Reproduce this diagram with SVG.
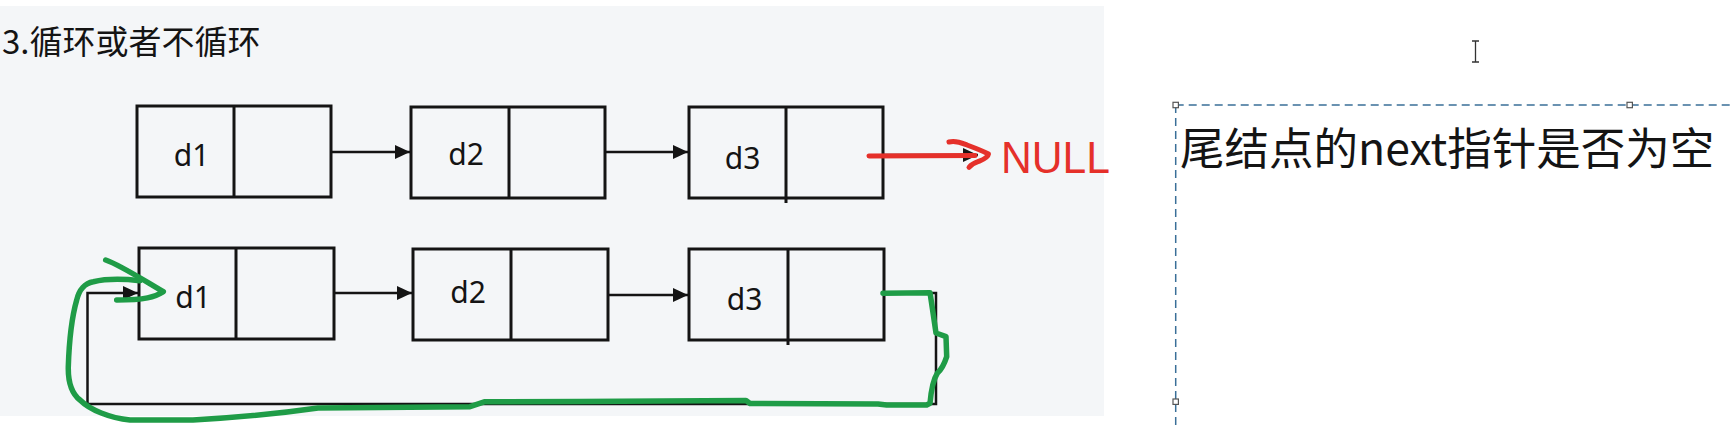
<svg xmlns="http://www.w3.org/2000/svg" width="1731" height="427" viewBox="0 0 1731 427">
<style>
.box{fill:none;stroke:#141414;stroke-width:3}
.div{stroke:#141414;stroke-width:3}
.lbl{font-family:"Noto Sans","Liberation Sans",sans-serif;font-size:30px;fill:#141414;text-anchor:middle}
.conn{fill:none;stroke:#141414;stroke-width:2.5}
.green{fill:none;stroke:#1f9c47;stroke-width:5.5;stroke-linecap:round;stroke-linejoin:round}
.red{fill:none;stroke:#e5302a;stroke-width:5;stroke-linecap:round;stroke-linejoin:round}
.sel{fill:none;stroke:#3a6f98;stroke-width:1.5;stroke-dasharray:8 5}
.handle{fill:#ffffff;stroke:#555;stroke-width:1.2}
</style>
<defs>
<marker id="ah" markerUnits="userSpaceOnUse" markerWidth="16" markerHeight="16" refX="15" refY="7" orient="auto">
<path d="M0,0 L15,7 L0,14 z" fill="#141414"/>
</marker>
</defs>
<rect x="0" y="0" width="1731" height="427" fill="#ffffff"/>
<rect x="0" y="6" width="1104" height="410" fill="#f4f6f8"/>
<text x="2" y="54" font-family="'Noto Sans CJK SC','Noto Sans',sans-serif" font-size="33" fill="#141414">3.循环或者不循环</text>

<g id="connectors">
<path class="conn" d="M331,152 H410" marker-end="url(#ah)"/>
<path class="conn" d="M605,152 H688" marker-end="url(#ah)"/>
<path class="conn" d="M334,293 H412" marker-end="url(#ah)"/>
<path class="conn" d="M608,295 H688" marker-end="url(#ah)"/>
<path class="conn" d="M884,293 H936 V404 H87.5 V293 H138" marker-end="url(#ah)"/>
<path class="conn" d="M883,155 H978" marker-end="url(#ah)"/>
</g>

<g id="n1"><rect class="box" x="137" y="106" width="194" height="91"/><line class="div" x1="234" y1="106" x2="234" y2="197"/><text class="lbl" x="191.5" y="166">d1</text></g>
<g id="n2"><rect class="box" x="411" y="107" width="194" height="91"/><line class="div" x1="509" y1="107" x2="509" y2="198"/><text class="lbl" x="466" y="165">d2</text></g>
<g id="n3"><rect class="box" x="689" y="107" width="194" height="91"/><line class="div" x1="786" y1="107" x2="786" y2="203"/><text class="lbl" x="742.5" y="169">d3</text></g>
<g id="m1"><rect class="box" x="139" y="248" width="195" height="91"/><line class="div" x1="236" y1="248" x2="236" y2="339"/><text class="lbl" x="193" y="308">d1</text></g>
<g id="m2"><rect class="box" x="413" y="249" width="195" height="91"/><line class="div" x1="511" y1="249" x2="511" y2="340"/><text class="lbl" x="468" y="303">d2</text></g>
<g id="m3"><rect class="box" x="689" y="249" width="195" height="91"/><line class="div" x1="788" y1="249" x2="788" y2="345"/><text class="lbl" x="744.5" y="310">d3</text></g>

<g id="null">
<path class="red" d="M869,156 L975,155.5"/>
<path class="red" d="M949,142 C956,140 962,143 967,145 C975,148 983,151 988.5,154 C988,158 982,160 978,161.7 C974,163 971,165 969,167.3"/>
<text x="1001" y="173" font-family="'Liberation Sans',Arial,sans-serif" font-size="45" fill="#e5302a" textLength="109" lengthAdjust="spacingAndGlyphs">NULL</text>
</g>

<g id="green-loop">
<path class="green" d="M883,293.3 L930,292.7 C932,305 934,320 936,333 L946,336.7 L946.7,356.7 C945,362 941,370 937.3,373.3 C933,380 931,392 930,403.3 L926.7,405 L886.7,405 L878,404 L750,403.5 L746,400.5 L580,401.5 L485,401.7 L470,406.7 L318,408 C290,412 250,417 193,420 L130,420 C110,418 90,410 80,400 C70,392 68,380 68.3,366.7 C69,345 71,320 76.7,300 C79,290 85,283 93.3,281.7 C105,279 125,279 140,280.7"/>
<path class="green" d="M105.7,260 C120,265 140,278 163.3,291.7 C155,297 145,300 116.7,300"/>
</g>

<g id="note">
<path class="sel" d="M1175.7,105 H1731 M1175.7,105 V427"/>
<rect class="handle" x="1173" y="102.3" width="5.4" height="5.4"/>
<rect class="handle" x="1627" y="102.3" width="5.4" height="5.4"/>
<rect class="handle" x="1173" y="399" width="5.4" height="5.4"/>
<text x="1180" y="165" font-family="'Noto Sans CJK SC','Noto Sans',sans-serif" font-size="44.5" fill="#141414">尾结点的next指针是否为空</text>
</g>

<path d="M1472,41 H1479 M1475.5,41 V62 M1472,62 H1479" fill="none" stroke="#333" stroke-width="1.3"/>
</svg>
